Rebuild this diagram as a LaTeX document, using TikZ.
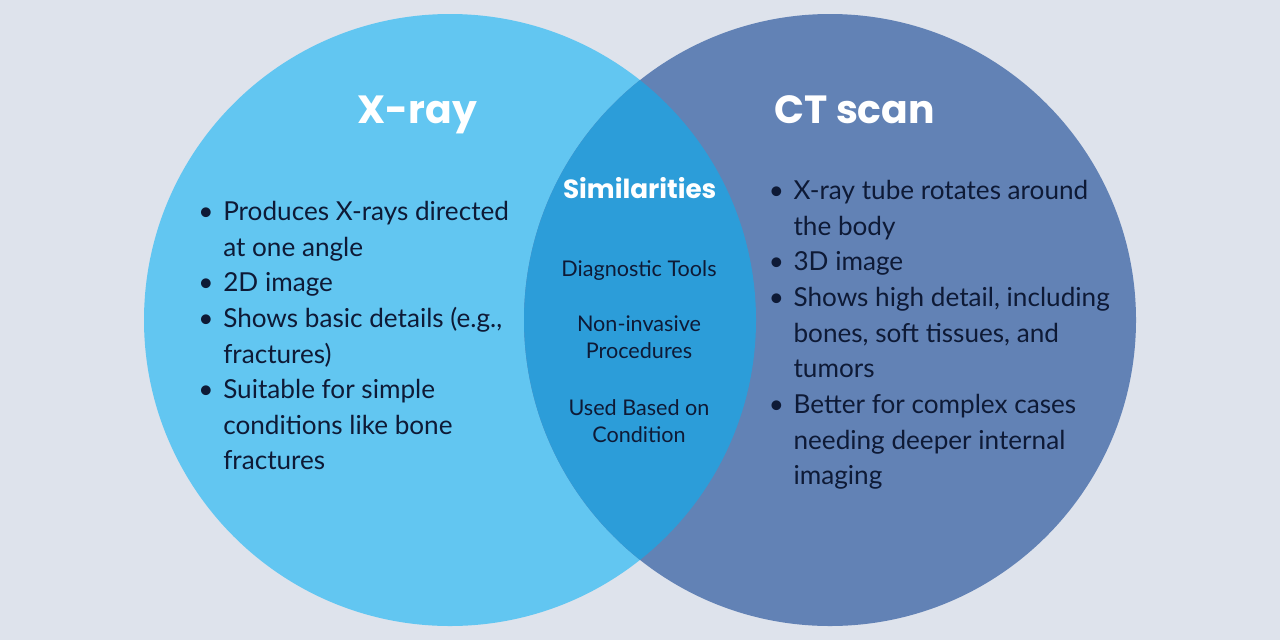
\documentclass[tikz,border=0pt]{standalone}
\usepackage{fontspec}
\setmainfont{Lato}
\newfontfamily\titlefont{Poppins}
\definecolor{bgc}{HTML}{DEE3EC}
\definecolor{leftc}{HTML}{62C6F1}
\definecolor{rightc}{HTML}{6282B5}
\definecolor{midc}{HTML}{2C9DD9}
\definecolor{txt}{HTML}{0E1A36}
\tikzset{
  title/.style={anchor=base, text=white, inner sep=0pt, font=\titlefont\bfseries\fontsize{29.5}{34}\selectfont},
  simtitle/.style={anchor=base, text=white, inner sep=0pt, font=\titlefont\bfseries\fontsize{19.7}{24}\selectfont},
  body/.style={anchor=base west, text=txt, inner sep=0pt, font=\fontsize{19.6}{27}\selectfont},
  bul/.style={anchor=base, text=txt, inner sep=0pt, font=\fontsize{19.6}{27}\selectfont},
  mid/.style={anchor=base, text=txt, inner sep=0pt, font=\fontsize{16.2}{20}\selectfont},
}
\begin{document}
\begin{tikzpicture}[x=0.75pt,y=-0.75pt]
\fill[bgc] (0,0) rectangle (1280,640);
\useasboundingbox (0,0) rectangle (1280,640);
\fill[leftc] (450,320) circle (306);
\fill[rightc] (830,320) circle (306);
\begin{scope}
  \clip (450,320) circle (306);
  \fill[midc] (830,320) circle (306);
\end{scope}
% titles
\node[title] (t1) at (417.5,123.3) {X-ray};
\node[title] (t2) at (854.7,123.3) {CT scan};
\node[simtitle] (t3) at (639.7,198.3) {Similarities};
% left list
\foreach \y/\n in {220.7/1,291.9/2,327.5/3,398.7/4} \node[bul] (lb\n) at (206,\y) {•};
\node[body] (l1) at (223,220.7) {Produces X-rays directed};
\node[body] (l2) at (223,256.3) {at one angle};
\node[body] (l3) at (223,291.9) {2D image};
\node[body] (l4) at (223,327.5) {Shows basic details (e.g.,};
\node[body] (l5) at (223,363.1) {fractures)};
\node[body] (l6) at (223,398.7) {Suitable for simple};
\node[body] (l7) at (223,434.3) {conditions like bone};
\node[body] (l8) at (223,469.9) {fractures};
% right list
\foreach \y/\n in {199.3/1,270.7/2,306.4/3,413.5/4} \node[bul] (rb\n) at (776.5,\y) {•};
\node[body] (r1) at (793.3,199.3) {X-ray tube rotates around};
\node[body] (r2) at (793.3,235.0) {the body};
\node[body] (r3) at (793.3,270.7) {3D image};
\node[body] (r4) at (793.3,306.4) {Shows high detail, including};
\node[body] (r5) at (793.3,342.1) {bones, soft tissues, and};
\node[body] (r6) at (793.3,377.8) {tumors};
\node[body] (r7) at (793.3,413.5) {Better for complex cases};
\node[body] (r8) at (793.3,449.2) {needing deeper internal};
\node[body] (r9) at (793.3,484.9) {imaging};
% middle
\node[mid] (m1) at (639,276.7) {Diagnostic Tools};
\node[mid] (m2) at (639,331.7) {Non-invasive};
\node[mid] (m3) at (639,358.3) {Procedures};
\node[mid] (m4) at (639,415.0) {Used Based on};
\node[mid] (m5) at (639,442.7) {Condition};
\end{tikzpicture}
\end{document}
